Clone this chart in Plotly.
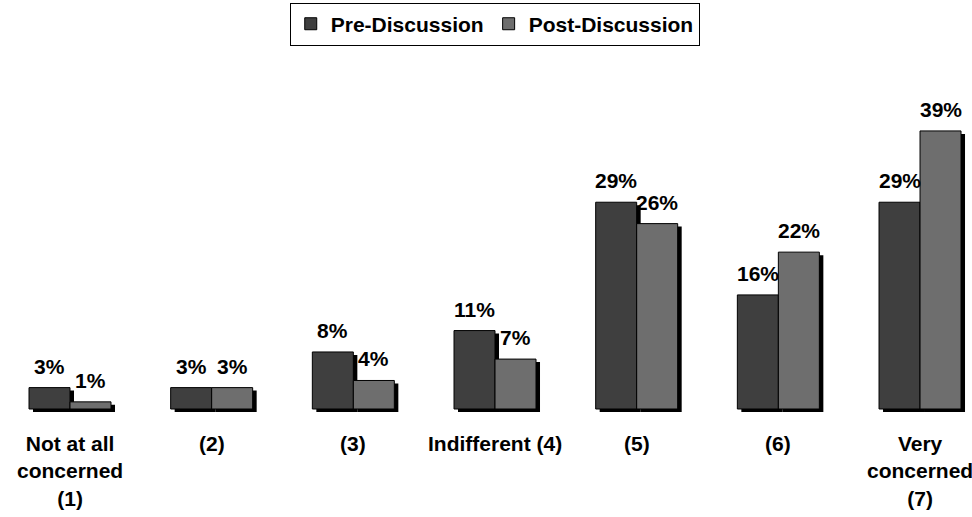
import plotly.graph_objects as go

# Survey results: level of concern before and after the discussion
categories = ["Not at all<br>concerned<br>(1)", "(2)", "(3)", "Indifferent (4)",
              "(5)", "(6)", "Very<br>concerned<br>(7)"]
pre_discussion = [3, 3, 8, 11, 29, 16, 29]
post_discussion = [1, 3, 4, 7, 26, 22, 39]
series_names = ["Pre-Discussion", "Post-Discussion"]

PRE_COLOR = "#3f3f3f"
POST_COLOR = "#6e6e6e"
FONT = "Liberation Sans, Arial, sans-serif"

# Geometry of the value axis (pixels per percentage point) and the category axis
W, H = 972, 517
px_per_cat = 141.67
px_per_pct = 7.13
baseline_px = 409
bar_w = 41 / px_per_cat
shadow_dx = 4 / px_per_cat
shadow_dy = 3 / px_per_pct

x_lo = -70 / px_per_cat
x_hi = x_lo + W / px_per_cat
y_hi = baseline_px / px_per_pct
y_lo = -(H - baseline_px) / px_per_pct

idx = list(range(len(categories)))

fig = go.Figure()

# Drop shadows behind each series
for vals, off in [(pre_discussion, -bar_w), (post_discussion, 0.0)]:
    fig.add_trace(go.Bar(
        x=idx, y=vals, base=[-shadow_dy] * len(vals),
        width=bar_w, offset=off + shadow_dx,
        marker=dict(color="black", line=dict(width=0)),
        showlegend=False, hoverinfo="skip",
    ))

for name, vals, color, off in [
    (series_names[0], pre_discussion, PRE_COLOR, -bar_w),
    (series_names[1], post_discussion, POST_COLOR, 0.0),
]:
    fig.add_trace(go.Bar(
        x=idx, y=vals, name=name, width=bar_w, offset=off,
        marker=dict(color=color, line=dict(color="black", width=1)),
    ))

annotations = []
# Value labels above each bar
for vals, off in [(pre_discussion, -bar_w / 2), (post_discussion, bar_w / 2)]:
    for i, v in enumerate(vals):
        annotations.append(dict(
            x=i + off, y=v, text=f"{v}%", showarrow=False,
            xanchor="center", yanchor="bottom", yshift=8,
            font=dict(family=FONT, size=21, color="black", weight="bold"),
        ))

# Category labels below the bars
for i, c in enumerate(categories):
    annotations.append(dict(
        x=i, y=0, text=c, showarrow=False,
        xanchor="center", yanchor="top", yshift=-21,
        font=dict(family=FONT, size=21, color="black", weight="bold"),
    ))

fig.update_layout(
    width=W, height=H,
    margin=dict(l=0, r=0, t=0, b=0),
    paper_bgcolor="white", plot_bgcolor="white",
    barmode="overlay",
    xaxis=dict(range=[x_lo, x_hi], visible=False),
    yaxis=dict(range=[y_lo, y_hi], visible=False),
    legend=dict(
        orientation="h", x=0.509, xanchor="center", y=0.995, yanchor="top",
        bordercolor="black", borderwidth=1, bgcolor="white",
        font=dict(family=FONT, size=21, color="black", weight="bold"),
        traceorder="normal",
    ),
    annotations=annotations,
    showlegend=True,
)

fig.write_html("out.html")
